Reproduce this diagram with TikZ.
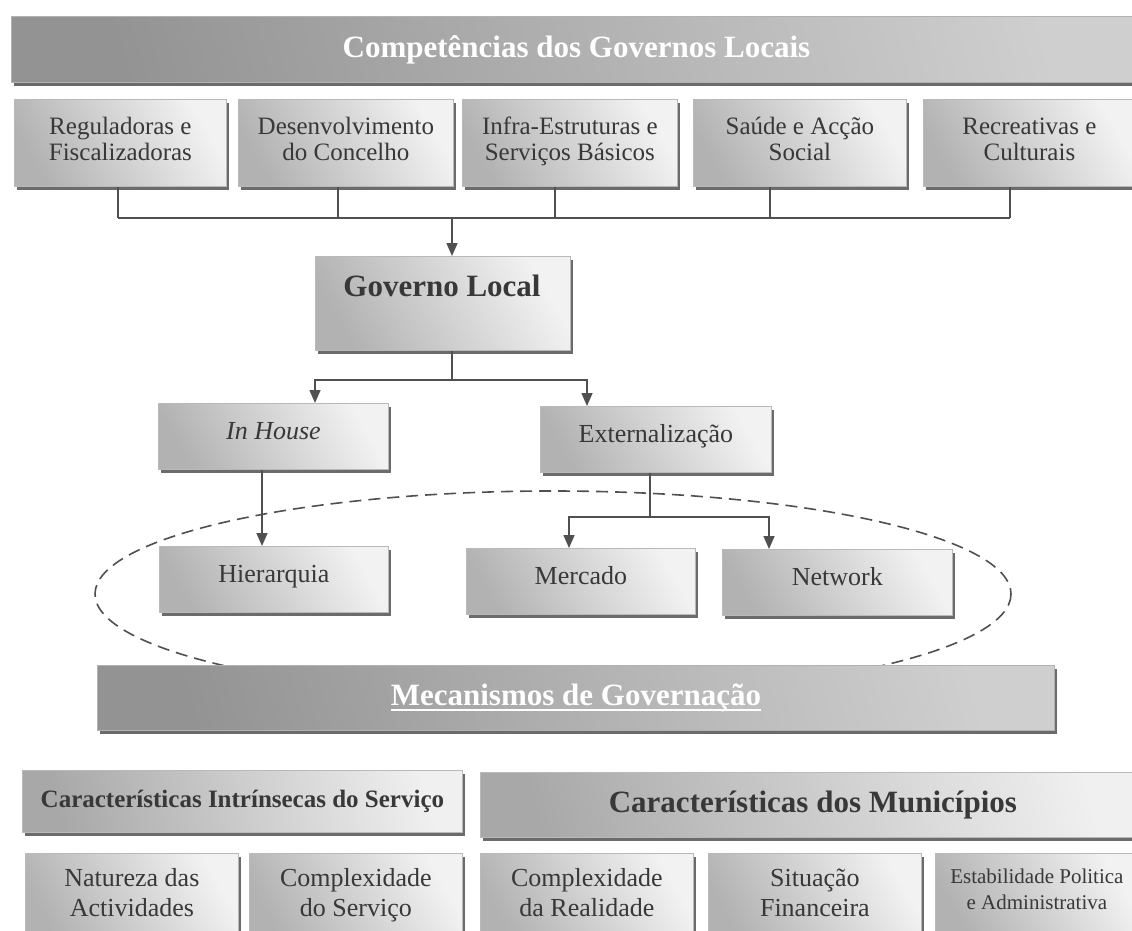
\documentclass[tikz,border=0pt]{standalone}
\usepackage{fontspec}
\setmainfont{Liberation Serif}
\usetikzlibrary{arrows.meta,shadows,calc}
\definecolor{ink}{HTML}{383838}
\definecolor{wire}{HTML}{505050}
\newcommand\whiteul[1]{\setbox0\hbox{#1}\rlap{\raisebox{-5pt}{\rule{\wd0}{1.6pt}}}\box0}

\tikzset{
  wh/.style 2 args={minimum width=#1pt, minimum height=#2pt},
  shadowed/.style={drop shadow={shadow xshift=3pt, shadow yshift=-4pt, fill=gray!55!black, opacity=0.8}},
  box/.style={shadowed, draw=gray!55, line width=0.8pt,
    top color=gray!10, bottom color=gray!60, shading angle=-60,
    text=ink, align=center, inner sep=0pt, anchor=north west},
  twoline/.style={execute at begin node=\strut, execute at end node=\strut},
  oneline/.style={text height=18pt, text depth=11pt},
  banner/.style={shadowed, draw=gray!60, line width=0.8pt,
    top color=gray!38, bottom color=gray!85, shading angle=-75,
    text=white, align=center, inner sep=0pt, anchor=north west,
    font=\fontsize{31}{34}\selectfont\bfseries},
  lightbanner/.style={shadowed, draw=gray!55, line width=0.8pt,
    top color=gray!12, bottom color=gray!68, shading angle=-75,
    text=ink, align=center, inner sep=0pt, anchor=north west},
  topfont/.style={twoline, font=\fontsize{25}{26}\selectfont},
  midfont/.style={oneline, font=\fontsize{26}{29}\selectfont},
  lowfont/.style={twoline, font=\fontsize{26}{30}\selectfont},
  conn/.style={draw=wire, line width=1.6pt},
  arr/.style={conn, -{Triangle[length=13pt,width=11pt]}},
}

\begin{document}
\begin{tikzpicture}[x=1pt, y=-1pt]
  \useasboundingbox (0,0) rectangle (1132,931);
  \fill[white] (0,0) rectangle (1132,931);

  % governance mechanisms ring (drawn first, boxes sit on top)
  \draw[wire, line width=1.6pt, dash pattern=on 12pt off 7pt] (553,594) ellipse [x radius=458, y radius=103];

  % competences of local governments
  \node[banner, wh={1130}{66}] (comp) at (11,16) {Competências dos Governos Locais};
  \node[box, topfont, wh={212}{87}] (c1) at (14,99)  {Reguladoras e\\Fiscalizadoras};
  \node[box, topfont, wh={215}{87}] (c2) at (238,99) {Desenvolvimento\\do Concelho};
  \node[box, topfont, wh={215}{87}] (c3) at (462,99) {Infra-Estruturas e\\Serviços Básicos};
  \node[box, topfont, wh={213}{87}] (c4) at (693,99) {Saúde e Acção\\Social};
  \node[box, topfont, wh={212}{87}] (c5) at (923,99) {Recreativas e\\Culturais};

  % local government
  \node[box, wh={255}{94}] (gl) at (315,256) {};
  \node[anchor=base, text=ink, inner sep=0pt, font=\fontsize{31}{34}\selectfont\bfseries] (gltext) at (442,296) {Governo Local};

  \node[box, midfont, wh={230}{66}] (inh) at (158,403) {\itshape In House};
  \node[box, midfont, wh={231}{66}] (ext) at (540,406) {Externalização};

  \node[box, midfont, wh={229}{66}] (hie) at (159,546) {Hierarquia};
  \node[box, midfont, wh={229}{66}] (mer) at (466,548) {Mercado};
  \node[box, midfont, wh={230}{66}] (net) at (722,549) {Network};

  \node[banner, wh={957}{65}] (mec) at (97,665) {\whiteul{Mecanismos de Governação}};

  % characteristics
  \node[lightbanner, wh={440}{62}, font=\fontsize{25}{28}\selectfont\bfseries] (cis) at (22,770) {Características Intrínsecas do Serviço};
  \node[lightbanner, wh={665}{65}, font=\fontsize{31}{34}\selectfont\bfseries] (cmu) at (480,772) {Características dos Municípios};

  \node[box, lowfont, wh={213}{88}] (d1) at (25,853)  {Natureza das\\Actividades};
  \node[box, lowfont, wh={213}{88}] (d2) at (249,853) {Complexidade\\do Serviço};
  \node[box, lowfont, wh={213}{88}] (d3) at (480,853) {Complexidade\\da Realidade};
  \node[box, lowfont, wh={213}{88}] (d4) at (708,853) {Situação\\Financeira};
  \node[box, twoline, wh={203}{80}, font=\fontsize{21}{26}\selectfont] (d5) at (935,853) {Estabilidade Politica\\e Administrativa};

  % collecting bus under the competences
  \coordinate (b1) at (118,218);
  \coordinate (b2) at (338,218);
  \coordinate (b3) at (555,218);
  \coordinate (b4) at (770,218);
  \coordinate (b5) at (1010,218);
  \coordinate (bm) at (452,218);
  \draw[conn] (b1) -- (b5);
  \foreach \i in {1,...,5} \draw[conn] (b\i |- c\i.south) -- (b\i);
  \draw[arr] (bm) -- (bm |- gl.north);

  % split into in house / outsourcing
  \coordinate (gj) at (452,380);
  \coordinate (gL) at (315,380);
  \coordinate (gR) at (587,380);
  \draw[conn] (gj |- gl.south) -- (gj);
  \draw[conn, {Triangle[length=13pt,width=11pt]}-{Triangle[length=13pt,width=11pt]}]
    (gL |- inh.north) -- (gL) -- (gR) -- (gR |- ext.north);

  % in house leads to hierarchy
  \coordinate (ih) at (262,480);
  \draw[arr] (ih |- inh.south) -- (ih |- hie.north);

  % outsourcing splits into market and network
  \coordinate (ej) at (650,517);
  \coordinate (eL) at (569,517);
  \coordinate (eR) at (769,517);
  \draw[conn] (ej |- ext.south) -- (ej);
  \draw[conn, {Triangle[length=13pt,width=11pt]}-{Triangle[length=13pt,width=11pt]}]
    (eL |- mer.north) -- (eL) -- (eR) -- (eR |- net.north);
\end{tikzpicture}
\end{document}
